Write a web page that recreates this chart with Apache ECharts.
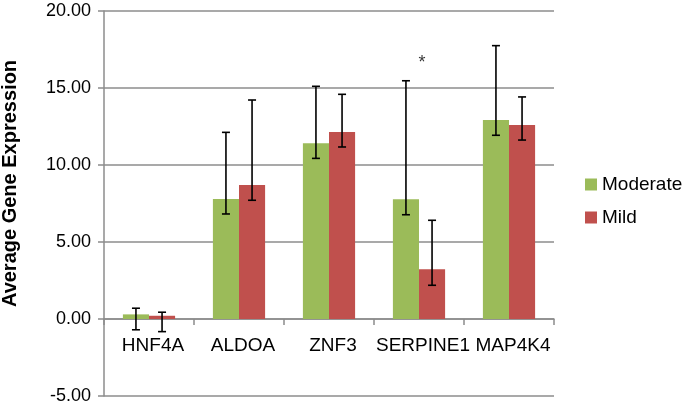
<!DOCTYPE html>
<html>
<head>
<meta charset="utf-8">
<script src="https://cdn.jsdelivr.net/npm/echarts@6/dist/echarts.min.js"></script>
<style>html,body{margin:0;padding:0;background:#fff}#c{width:685px;height:407px}</style>
</head>
<body>
<div id="c"></div>
<script>
var categories = ['HNF4A', 'ALDOA', 'ZNF3', 'SERPINE1', 'MAP4K4'];
var moderate = [0.30, 7.79, 11.41, 7.77, 12.92];
var mild = [0.21, 8.70, 12.14, 3.23, 12.60];
var moderateLow = [-0.70, 6.82, 10.43, 6.77, 11.93];
var moderateHigh = [0.70, 12.12, 15.11, 15.47, 17.75];
var mildLow = [-0.82, 7.71, 11.17, 2.19, 11.62];
var mildHigh = [0.44, 14.22, 14.59, 6.41, 14.42];
var yTicks = [-5, 0, 5, 10, 15, 20];
var markers = [['SERPINE1', 16.6, '*']];

var FONT = 'Liberation Sans, Arial, Helvetica, sans-serif';
var barFrac = 0.58;

function errSeries(low, high, side) {
  return {
    type: 'custom',
    z: 10,
    data: categories.map(function (c, i) { return [i, low[i], high[i]]; }),
    renderItem: function (params, api) {
      var idx = api.value(0);
      var band = api.size([1, 0])[0];
      var off = side * band * barFrac / 4;
      var lo = api.coord([idx, api.value(1)]);
      var hi = api.coord([idx, api.value(2)]);
      var x = lo[0] + off;
      var cap = 4;
      var st = { stroke: '#000', lineWidth: 1.6 };
      return {
        type: 'group',
        children: [
          { type: 'line', shape: { x1: x, y1: lo[1], x2: x, y2: hi[1] }, style: st },
          { type: 'line', shape: { x1: x - cap, y1: lo[1], x2: x + cap, y2: lo[1] }, style: st },
          { type: 'line', shape: { x1: x - cap, y1: hi[1], x2: x + cap, y2: hi[1] }, style: st }
        ]
      };
    },
    tooltip: { show: false },
    silent: true
  };
}

// category labels drawn under the zero line (the axis sits at y = 0)
var categoryLabelSeries = {
  type: 'custom',
  z: 15,
  data: categories.map(function (c, i) { return [i, 0]; }),
  renderItem: function (params, api) {
    var p = api.coord([api.value(0), 0]);
    return {
      type: 'text',
      x: p[0] + 4,
      y: p[1] + 27,
      style: {
        text: categories[params.dataIndex],
        fontSize: 19,
        fontFamily: FONT,
        fill: '#000',
        align: 'center',
        verticalAlign: 'middle'
      }
    };
  },
  silent: true
};

var chart = echarts.init(document.getElementById('c'));
chart.setOption({
  animation: false,
  textStyle: { fontFamily: FONT },
  grid: { left: 104, right: 131, top: 11, bottom: 11, containLabel: false, outerBoundsMode: 'none' },
  legend: {
    orient: 'vertical',
    left: 580,
    top: 170,
    itemWidth: 12,
    itemHeight: 12,
    itemGap: 14,
    icon: 'rect',
    textStyle: { fontSize: 19, color: '#000', fontFamily: FONT },
    data: ['Moderate', 'Mild']
  },
  xAxis: {
    type: 'category',
    data: categories,
    axisLine: { onZero: true, lineStyle: { color: '#8c8c8c', width: 1.5 } },
    axisTick: { show: true, inside: false, length: 6, alignWithLabel: false, lineStyle: { color: '#8c8c8c', width: 1.5 } },
    axisLabel: { show: false },
    splitLine: { show: false }
  },
  yAxis: {
    type: 'value',
    min: -5,
    max: 20,
    interval: 5,
    name: 'Average Gene Expression',
    nameLocation: 'middle',
    nameGap: 84,
    nameTextStyle: { fontSize: 20, fontWeight: 'bold', color: '#000', fontFamily: FONT, padding: [0, 0, 0, 40] },
    axisLine: { show: true, lineStyle: { color: '#8c8c8c', width: 1.5 } },
    axisTick: { show: true, length: 6, lineStyle: { color: '#8c8c8c', width: 1.5 } },
    axisLabel: {
      fontSize: 18, color: '#000', margin: 13, fontFamily: FONT,
      formatter: function (v) { return yTicks.indexOf(v) >= 0 ? v.toFixed(2) : ''; }
    },
    splitLine: { show: true, lineStyle: { color: '#8c8c8c', width: 1.5 } }
  },
  series: [
    {
      name: 'Moderate', type: 'bar', data: moderate,
      barGap: '0%', barCategoryGap: '42%',
      itemStyle: { color: '#9BBB59' }
    },
    {
      name: 'Mild', type: 'bar', data: mild,
      barGap: '0%', barCategoryGap: '42%',
      itemStyle: { color: '#C0504D' }
    },
    errSeries(moderateLow, moderateHigh, -1),
    errSeries(mildLow, mildHigh, 1),
    categoryLabelSeries,
    {
      type: 'scatter',
      z: 20,
      data: markers.map(function (m) { return [m[0], m[1], m[2]]; }),
      symbolSize: 2,
      itemStyle: { color: 'rgba(0,0,0,0)' },
      label: {
        show: true, position: 'inside', color: '#000', fontSize: 18, fontFamily: FONT,
        offset: [3, 0],
        formatter: function (p) { return p.value[2]; }
      },
      silent: true
    }
  ]
});
</script>
</body>
</html>
